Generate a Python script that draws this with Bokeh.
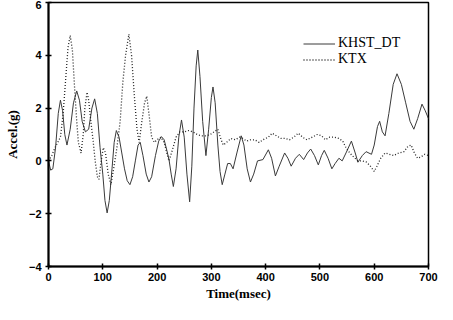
from bokeh.plotting import figure
from bokeh.models import Range1d, FixedTicker, Legend, LegendItem
from bokeh.embed import file_html
from bokeh.resources import INLINE

# KHST_DT (solid)
khst_t = [0, 4, 8, 13, 18, 22, 26, 30, 34, 40, 46, 52, 57, 62, 68, 74, 80, 85, 90, 95,
          100, 104, 108, 112, 117, 121, 125, 130, 135, 140, 145, 150, 155, 160, 165, 169,
          174, 180, 185, 190, 197, 203, 208, 213, 218, 222, 226, 230, 235, 240, 245, 250,
          255, 260, 264, 268, 272, 275, 279, 284, 290, 295, 300, 303, 307, 312, 316, 320,
          325, 330, 335, 340, 347, 355, 360, 366, 372, 378, 385, 395, 405, 411, 418, 425,
          435, 441, 447, 455, 462, 470, 477, 483, 490, 497, 503, 508, 515, 522, 528, 535,
          541, 548, 558, 565, 570, 578, 585, 595, 600, 606, 610, 615, 620, 627, 635, 642,
          650, 658, 666, 673, 680, 688, 694, 700]
khst_a = [0.0, -0.35, -0.3, 0.5, 1.8, 2.3, 1.9, 1.0, 0.6, 1.2, 2.2, 2.65, 2.3, 1.5, 1.1, 1.2,
          2.0, 2.35, 1.8, 0.5, -0.5, -1.5, -1.97, -1.5, -0.3, 0.7, 1.15, 0.9, 0.3, -0.3,
          -0.75, -0.9, -0.6, 0.0, 0.6, 0.7, 0.2, -0.5, -0.8, -0.6, 0.2, 0.75, 0.92, 0.8,
          0.4, 0.05, -0.5, -0.97, -0.3, 0.9, 1.55, 0.9, -0.5, -1.55, -0.2, 2.0, 3.6, 4.2,
          3.2, 1.5, 0.2, 1.2, 2.4, 2.8, 2.2, 0.6, -0.4, -0.9, -0.5, -0.1, -0.1, -0.3, 0.3,
          0.95, 0.6, -0.3, -0.8, -0.5, 0.0, 0.05, 0.42, 0.1, -0.57, -0.2, 0.3, 0.1, -0.2,
          0.1, 0.25, 0.05, 0.3, 0.45, 0.2, -0.15, 0.2, 0.4, 0.1, -0.3, -0.1, 0.1, 0.0, 0.3,
          0.75, 0.3, -0.05, 0.2, 0.35, 0.25, 0.6, 1.3, 1.5, 1.1, 0.95, 1.8, 2.9, 3.3, 2.9,
          2.2, 1.5, 1.2, 1.6, 2.15, 1.9, 1.6]

# KTX (dotted)
ktx_t = [0, 6, 12, 17, 22, 27, 32, 36, 40, 44, 48, 52, 55, 60, 64, 67, 71, 74, 78, 82, 86,
         90, 93, 97, 101, 105, 110, 115, 120, 126, 132, 137, 142, 148, 153, 158, 163, 167,
         172, 177, 181, 185, 190, 195, 200, 207, 213, 218, 222, 228, 235, 242, 250, 258,
         266, 274, 282, 290, 298, 305, 312, 318, 322, 328, 336, 344, 352, 358, 365, 372,
         380, 388, 395, 405, 412, 420, 428, 436, 444, 452, 460, 468, 476, 486, 495, 503,
         510, 518, 526, 535, 542, 548, 555, 562, 570, 578, 586, 593, 600, 605, 612, 620,
         628, 636, 645, 655, 662, 668, 674, 680, 686, 693, 700]
ktx_a = [0.0, 0.2, 0.5, 0.7, 0.9, 1.8, 3.2, 4.3, 4.75, 4.2, 2.8, 1.5, 0.7, 0.3, 1.0, 2.0,
         2.6, 2.3, 1.5, 0.8, 0.0, -0.6, -0.7, 0.0, 0.5, 0.3, -0.5, -0.9, -0.3, 0.5, 1.5,
         3.0, 4.0, 4.8, 4.0, 2.5, 1.2, 0.7, 1.5, 2.2, 2.45, 1.8, 0.9, 0.7, 0.8, 0.9, 0.7,
         0.3, 0.0, 0.4, 0.9, 1.1, 1.1, 1.15, 1.1, 1.0, 0.95, 0.95, 1.0, 1.1, 1.2, 0.8, 0.6,
         0.7, 0.85, 0.8, 0.9, 0.85, 0.75, 0.8, 0.8, 0.7, 0.8, 0.9, 1.05, 0.95, 0.85, 0.85,
         0.8, 0.9, 1.05, 0.9, 0.8, 0.9, 1.0, 0.95, 0.8, 0.9, 0.9, 0.85, 0.75, 0.5, 0.3,
         0.15, 0.0, 0.0, -0.05, -0.2, -0.4, -0.2, 0.1, 0.3, 0.25, 0.2, 0.3, 0.35, 0.55,
         0.6, 0.3, 0.1, 0.15, 0.25, 0.2]

x_ticks = [0, 100, 200, 300, 400, 500, 600, 700]
y_ticks = [-4, -2, 0, 2, 4, 6]

SERIF = "serif"

p = figure(width=440, height=304, output_backend="svg", toolbar_location=None,
           x_range=Range1d(0, 700), y_range=Range1d(-4, 6),
           min_border_left=48, min_border_right=12, min_border_top=2, min_border_bottom=38)
p.background_fill_color = "white"
p.border_fill_color = "white"
p.grid.visible = False
p.outline_line_color = "black"
p.outline_line_width = 1.5

r1 = p.line(khst_t, khst_a, line_color="#3a3a3a", line_width=1)
r2 = p.line(ktx_t, ktx_a, line_color="#222222", line_width=1.3, line_dash="1 2")

for ax in (p.xaxis[0], p.yaxis[0]):
    ax.axis_line_width = 2
    ax.axis_line_color = "black"
    ax.major_tick_line_color = "black"
    ax.major_tick_line_width = 1.5
    ax.major_tick_in = 3
    ax.major_tick_out = 3
    ax.minor_tick_line_color = None
    ax.major_label_text_font = "Liberation Sans"
    ax.major_label_text_font_style = "bold"
    ax.major_label_text_font_size = "11px"
    ax.major_label_text_color = "black"
    ax.axis_label_text_font = SERIF
    ax.axis_label_text_font_style = "bold"
    ax.axis_label_text_font_size = "13px"
    ax.axis_label_text_color = "black"

p.xaxis.ticker = FixedTicker(ticks=x_ticks)
p.yaxis.ticker = FixedTicker(ticks=y_ticks)
p.xaxis.axis_label = "Time(msec)"
p.yaxis.axis_label = "Accel.(g)"
p.xaxis.axis_label_standoff = 2
p.yaxis.axis_label_standoff = 6
p.xaxis.major_label_standoff = 3
p.yaxis.major_label_standoff = 4

legend = Legend(items=[LegendItem(label="KHST_DT", renderers=[r1]),
                       LegendItem(label="KTX", renderers=[r2])],
                location=(255, 199))
legend.border_line_color = None
legend.background_fill_alpha = 0
legend.padding = 0
legend.spacing = 0
legend.margin = 0
legend.glyph_width = 32
legend.glyph_height = 15
legend.label_height = 15
legend.label_standoff = 3
legend.label_text_font = SERIF
legend.label_text_font_size = "14px"
legend.label_text_color = "black"
p.add_layout(legend, "center")

open("out.html", "w").write(file_html(p, INLINE))
